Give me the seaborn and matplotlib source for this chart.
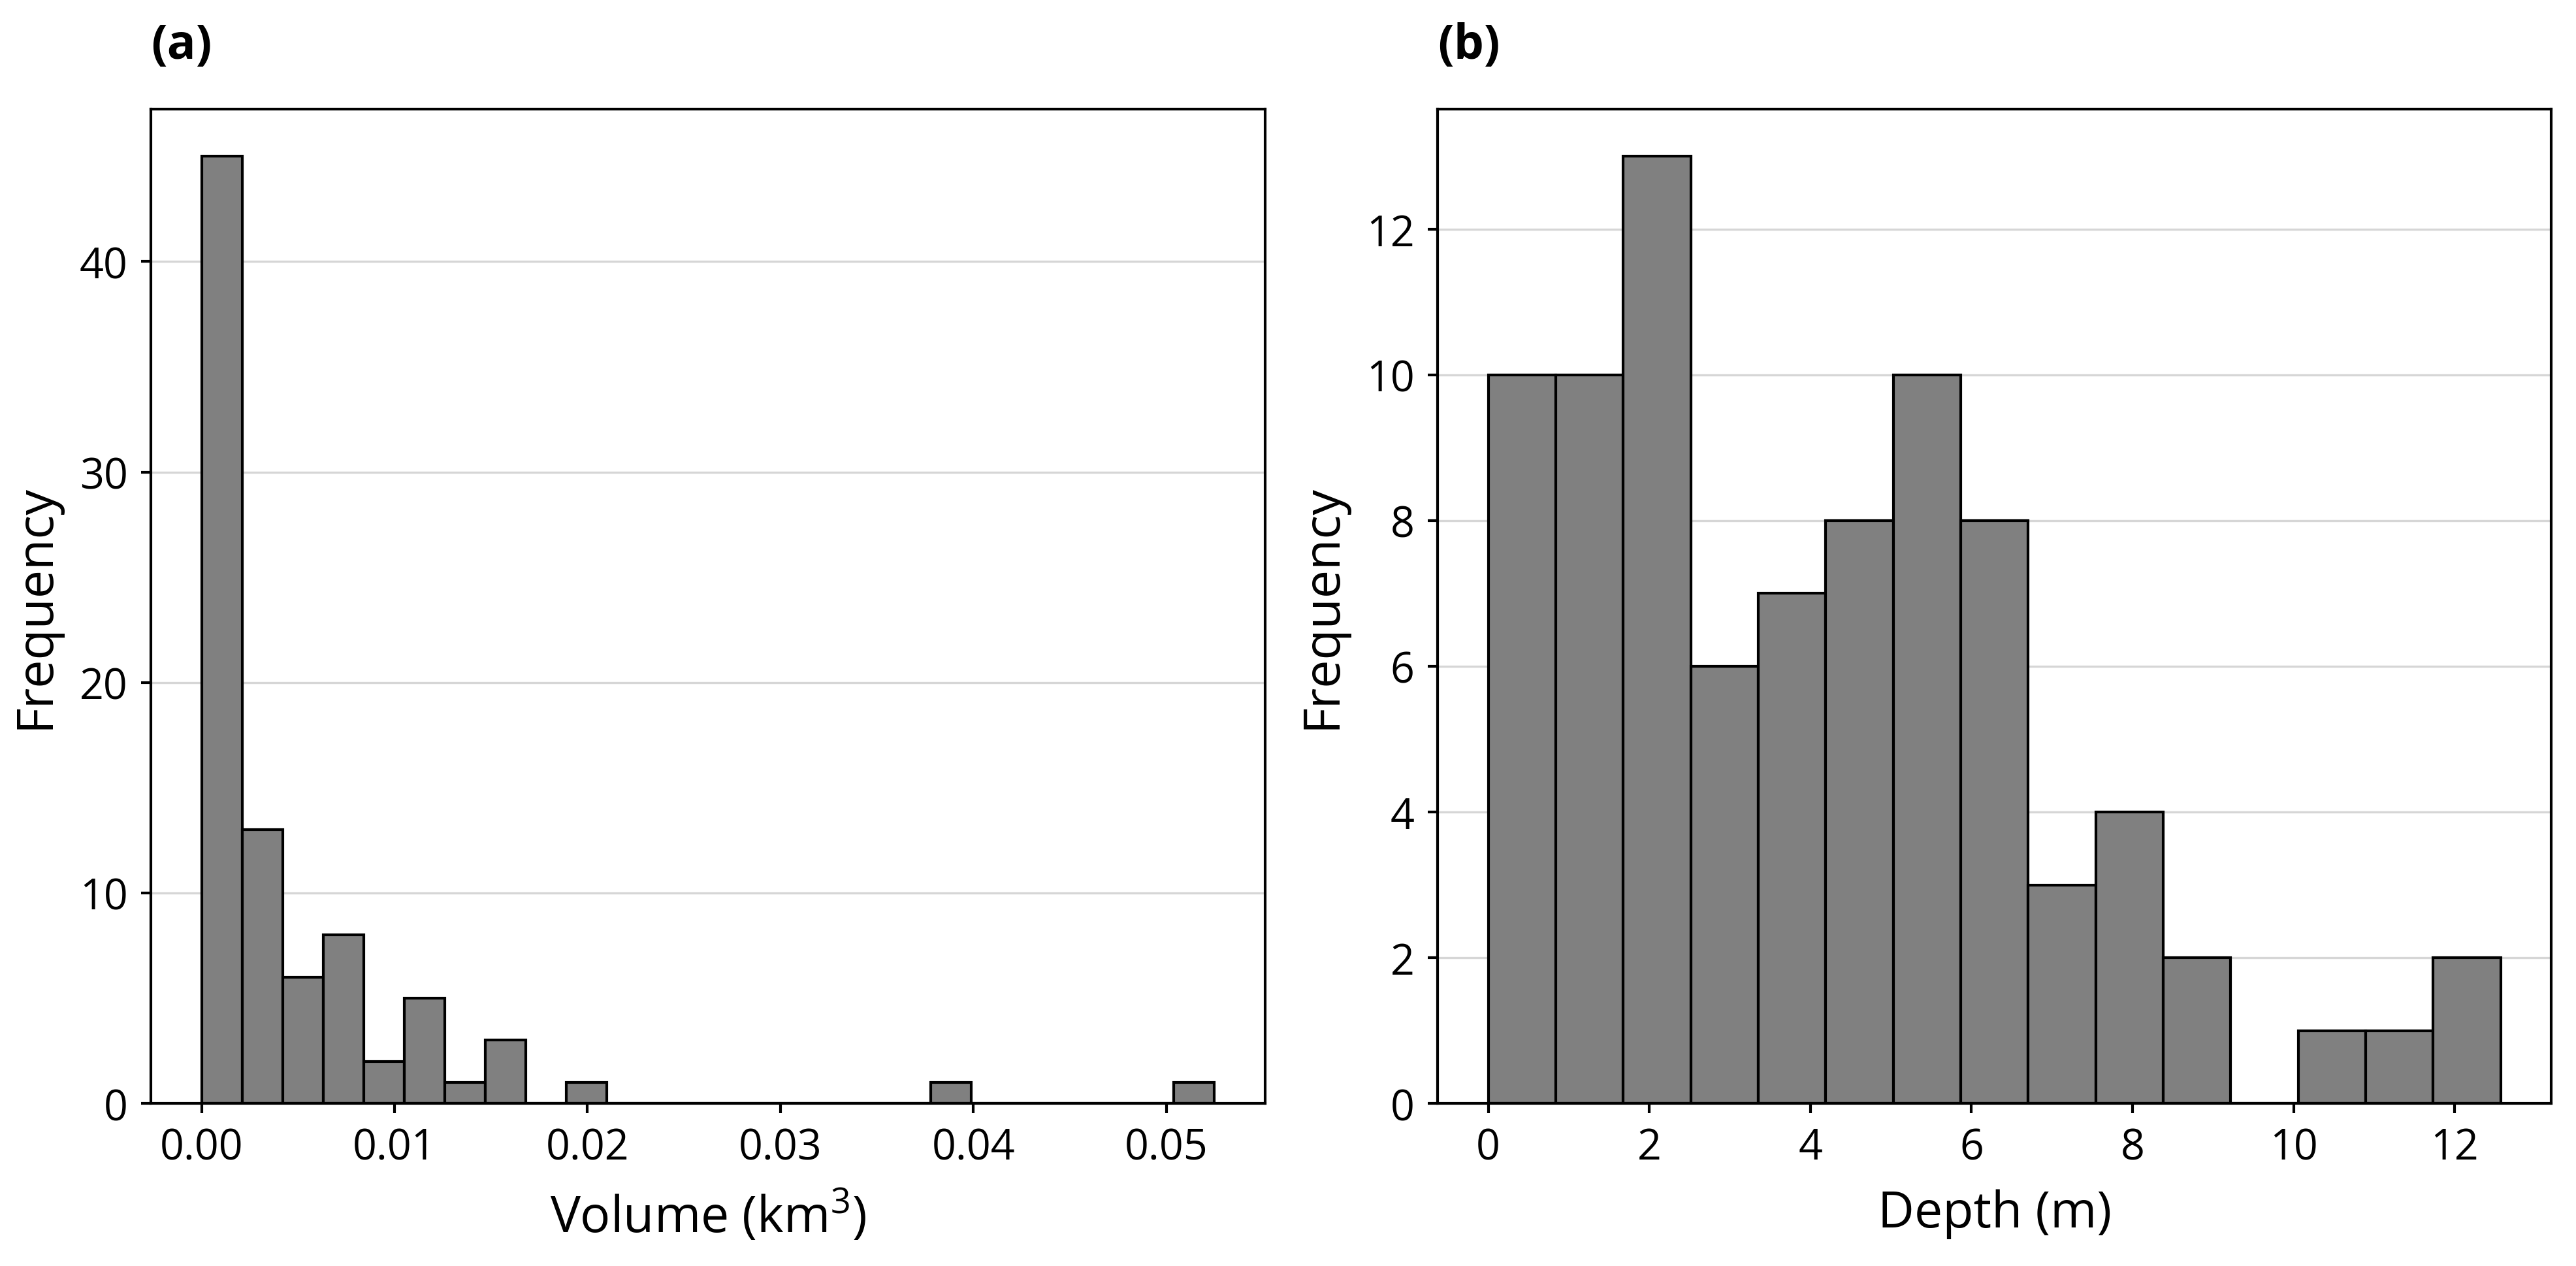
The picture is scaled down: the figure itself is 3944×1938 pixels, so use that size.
import numpy as np
import pandas as pd
import matplotlib
matplotlib.use("Agg")
import matplotlib.pyplot as plt
import seaborn as sns

# ---- data ----
vol_bin_start = 0.0
vol_bin_width = 0.0021
vol_counts = [45, 13, 6, 8, 2, 5, 1, 3, 0, 1, 0, 0, 0, 0, 0, 0, 0, 0, 1, 0, 0, 0, 0, 0, 1]

depth_bin_start = 0.0
depth_bin_width = 0.838
depth_counts = [10, 10, 13, 6, 7, 8, 10, 8, 3, 4, 2, 0, 1, 1, 2]

panel_labels = ["(a)", "(b)"]
x_labels = ["Volume (km$^3$)", "Depth (m)"]
y_label = "Frequency"

# ---- style ----
sns.set_theme(style="white")
plt.rcParams["font.family"] = ["Open Sans", "DejaVu Sans"]
plt.rcParams["mathtext.fontset"] = "custom"
plt.rcParams["mathtext.rm"] = "Open Sans"
plt.rcParams["mathtext.it"] = "Open Sans:italic"
plt.rcParams["mathtext.bf"] = "Open Sans:bold"
plt.rcParams["text.color"] = "black"
plt.rcParams["axes.labelcolor"] = "black"
plt.rcParams["xtick.color"] = "black"
plt.rcParams["ytick.color"] = "black"

fig = plt.figure(figsize=(3944 / 300, 1939 / 300), dpi=300)
ax1 = fig.add_axes([0.0586, 0.1284, 0.4325, 0.785])
ax2 = fig.add_axes([0.5581, 0.1284, 0.4323, 0.785])


def draw(ax, start, width, counts, xlabel, plabel):
    counts = [float(c) for c in counts]
    edges = [start + width * i for i in range(len(counts) + 1)]
    centers = [(edges[i] + edges[i + 1]) / 2 for i in range(len(counts))]
    df = pd.DataFrame({"value": centers, "count": counts})
    sns.histplot(data=df, x="value", weights="count", bins=edges, ax=ax,
                 color="#808080", edgecolor="black", linewidth=1.0,
                 alpha=1.0)
    ax.set_axisbelow(True)
    ax.yaxis.grid(True, color="#d6d6d6", linewidth=0.8)
    ax.xaxis.grid(False)
    for s in ax.spines.values():
        s.set_visible(True)
        s.set_color("black")
        s.set_linewidth(1.0)
    ax.tick_params(axis="both", which="major", direction="out", length=3.5,
                   width=1.0, color="black", labelcolor="black",
                   labelsize=15.5, pad=5, bottom=True, left=True)
    ax.set_xlabel(xlabel, fontsize=18.5, labelpad=7, color="black")
    ax.set_ylabel(y_label, fontsize=18.5, labelpad=7, color="black")
    ax.text(0.0, 1.064, plabel, transform=ax.transAxes, fontsize=17.5,
            fontweight="bold", ha="left", va="center", color="black")


draw(ax1, vol_bin_start, vol_bin_width, vol_counts, x_labels[0], panel_labels[0])
draw(ax2, depth_bin_start, depth_bin_width, depth_counts, x_labels[1], panel_labels[1])

ax1.set_xticks([0.00, 0.01, 0.02, 0.03, 0.04, 0.05])
ax1.set_xticklabels(["0.00", "0.01", "0.02", "0.03", "0.04", "0.05"])

fig.savefig("out.png", dpi=300)
